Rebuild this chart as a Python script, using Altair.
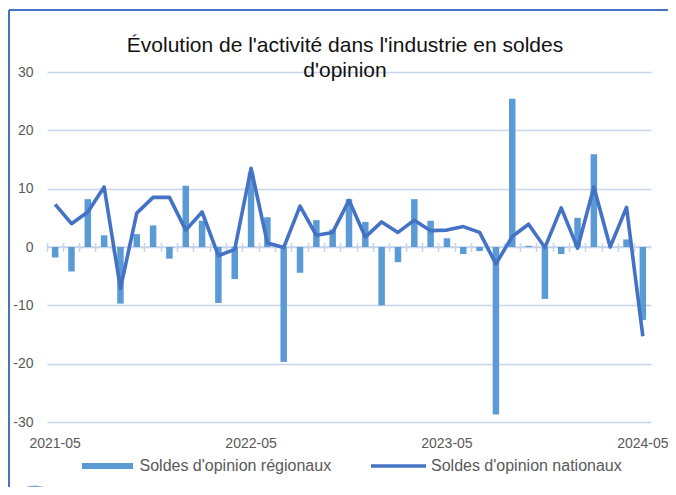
import altair as alt
import pandas as pd

months = [f"{y}-{m:02d}" for y in (2021, 2022, 2023, 2024) for m in range(1, 13)]
months = months[months.index("2021-05"):months.index("2024-05") + 1]

regional = [-1.8, -4.2, 8.2, 2.0, -9.7, 2.2, 3.7, -2.0, 10.5, 4.5, -9.6, -5.5,
            12.8, 5.1, -19.7, -4.4, 4.6, 3.0, 8.2, 4.3, -10.0, -2.6, 8.2, 4.5,
            1.5, -1.2, -0.7, -28.7, 25.4, 0.2, -8.9, -1.2, 5.0, 15.9, 0.0, 1.3, -12.5]
national = [7.3, 4.0, 6.0, 10.3, -7.1, 5.8, 8.5, 8.5, 2.9, 6.0, -1.5, -0.4,
            13.5, 0.7, -0.1, 7.0, 2.0, 2.5, 8.0, 1.7, 4.3, 2.5, 4.6, 2.8,
            2.9, 3.5, 2.5, -2.9, 1.8, 3.9, -0.1, 6.7, -0.2, 10.3, 0.0, 6.8, -15.3]
label_months = ["2021-05", "2022-05", "2023-05", "2024-05"]
y_ticks = [-30, -20, -10, 0, 10, 20, 30]

S_REG = "Soldes d'opinion régionaux"
S_NAT = "Soldes d'opinion nationaux"

df = pd.DataFrame({"month": months, "regional": regional, "national": national,
                   "s_reg": S_REG, "s_nat": S_NAT})

GRID = "#C6D4EC"
BAR = "#5B9BD5"
LINE = "#4472C4"
TXT = "#595959"
FONT = "Liberation Sans"

xscale = alt.Scale(domain=months, paddingInner=0, paddingOuter=0)
yscale = alt.Scale(domain=[-30, 30], nice=False)

yaxis = alt.Axis(values=y_ticks, grid=True, gridColor=GRID, gridWidth=1.5,
                 domain=False, ticks=False, labelPadding=14, labelFontSize=14,
                 labelColor=TXT, labelFont=FONT, title=None,
                 labelExpr="'' + datum.value")

bars = alt.Chart(df).mark_bar(width=6.5).encode(
    x=alt.X("month:O", scale=xscale,
            axis=alt.Axis(orient="bottom", labels=False, domain=False, ticks=True,
                          tickSize=9, tickWidth=1.5, tickColor=GRID, bandPosition=0,
                          offset=-179.5, grid=False, title=None)),
    y=alt.Y("regional:Q", scale=yscale, axis=yaxis),
    color=alt.Color("s_reg:N", scale=alt.Scale(domain=[S_REG], range=[BAR]),
                    legend=alt.Legend(orient="none", legendX=52.5, legendY=386,
                                      title=None, symbolType="M-5.1,-0.6H5.1V0.6H-5.1Z",
                                      symbolSize=100, symbolStrokeWidth=0,
                                      labelOffset=24, labelFontSize=16, labelLimit=400,
                                      labelColor=TXT, labelFont=FONT, padding=0)),
)

zero = alt.Chart(df).mark_rule(color=GRID, strokeWidth=1.5).encode(
    y=alt.datum(0, scale=yscale)
).transform_filter("datum.month == '2021-05'")

line = alt.Chart(df).mark_line(strokeWidth=3.6, strokeJoin="round").encode(
    x=alt.X("month:O", scale=xscale,
            axis=alt.Axis(orient="bottom", values=label_months, labelAngle=0, ticks=False,
                          domain=False, labelPadding=14, labelFontSize=14,
                          labelColor=TXT, labelFont=FONT, grid=False, title=None)),
    y=alt.Y("national:Q", scale=yscale),
    stroke=alt.Stroke("s_nat:N", scale=alt.Scale(domain=[S_NAT], range=[LINE]),
                      legend=alt.Legend(orient="none", legendX=343.5, legendY=386,
                                        title=None, symbolType="M-5.5,0H5.5",
                                        symbolSize=100, symbolStrokeWidth=3.5,
                                        labelOffset=24.5, labelFontSize=16, labelLimit=400,
                                        labelColor=TXT, labelFont=FONT, padding=0)),
)

one = pd.DataFrame({"a": [0]})
frame_left = alt.Chart(one).mark_rule(color=LINE, strokeWidth=2).encode(
    x=alt.value(-38), y=alt.value(-62), y2=alt.value(420))
frame_top = alt.Chart(one).mark_rule(color=LINE, strokeWidth=2).encode(
    x=alt.value(-38), x2=alt.value(640), y=alt.value(-62))
logo = alt.Chart(one).mark_point(shape="circle", filled=False, color="#4F7FC7",
                                 strokeWidth=1.5, size=2460).encode(
    x=alt.value(-12), y=alt.value(439))

chart = alt.layer(zero, bars, line, frame_left, frame_top, logo).resolve_axis(
    x="independent"
).properties(
    width=604, height=350,
    autosize=alt.AutoSizeParams(type="none"),
    padding={"left": 39, "top": 64, "right": 17, "bottom": 65},
    title=alt.Title(["Évolution de l'activité dans l'industrie en soldes", "d'opinion"],
                    fontSize=21, fontWeight="normal", font=FONT, color="#111111",
                    anchor="middle", frame="group", offset=-10, lineHeight=25,
                    dy=62, dx=-4),
).configure_view(stroke=None)

chart.save("out.html", embed_options={"renderer": "svg", "actions": False})
